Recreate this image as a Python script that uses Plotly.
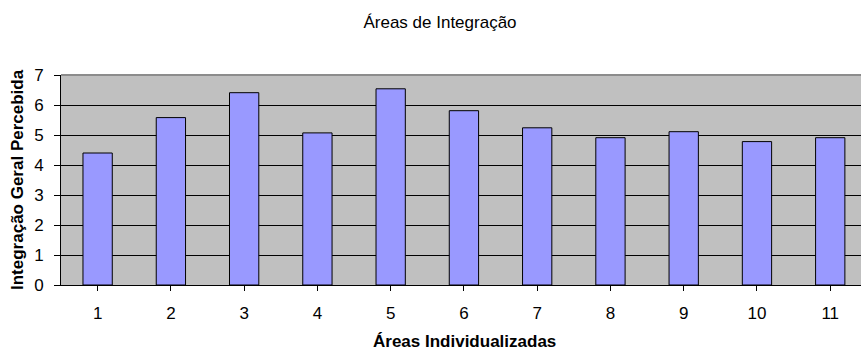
import plotly.graph_objects as go

categories = ["1", "2", "3", "4", "5", "6", "7", "8", "9", "10", "11"]
values = [4.40, 5.58, 6.41, 5.07, 6.54, 5.81, 5.24, 4.91, 5.11, 4.78, 4.91]
y_ticks = [0, 1, 2, 3, 4, 5, 6, 7]

title_text = "Áreas de Integração"
x_title = "Áreas Individualizadas"
y_title = "Integração Geral Percebida"

FONT = "Liberation Sans, Arial, sans-serif"

fig = go.Figure()
fig.add_trace(go.Bar(
    x=list(range(len(categories))),
    y=values,
    width=0.4,
    marker=dict(color="#9999FF", line=dict(color="#000000", width=1)),
    showlegend=False,
))

fig.update_layout(
    width=861, height=352,
    margin=dict(l=61, r=0, t=75, b=67),
    paper_bgcolor="white",
    plot_bgcolor="#C0C0C0",
    font=dict(family=FONT, size=17, color="#000000"),
    title=dict(text=title_text, x=440 / 861, xanchor="center", xref="container",
               y=1 - 22 / 352, yanchor="middle", yref="container",
               font=dict(family=FONT, size=17, color="#000000")),
    bargap=0.6,
)

fig.update_xaxes(
    range=[-0.5, 10.42],
    tickmode="array",
    tickvals=list(range(len(categories))),
    ticktext=categories,
    tickson="boundaries",
    ticks="outside", ticklen=5, tickcolor="#000000", tickwidth=1,
    showline=True, linecolor="#000000", linewidth=1,
    showgrid=False, zeroline=False,
    ticklabelstandoff=8,
    tickfont=dict(family=FONT, size=17, color="#000000"),
)

fig.update_yaxes(
    range=[0, 7],
    tickmode="array",
    tickvals=y_ticks,
    ticktext=[str(v) for v in y_ticks],
    ticks="outside", ticklen=6, tickcolor="#000000", tickwidth=1,
    showline=True, linecolor="#000000", linewidth=1,
    showgrid=True, gridcolor="#000000", gridwidth=1,
    zeroline=False,
    ticklabelstandoff=7,
    tickfont=dict(family=FONT, size=17, color="#000000"),
)

# grey plot-area top border
fig.add_shape(type="line", xref="paper", yref="paper", x0=0, x1=1, y0=1, y1=1,
              line=dict(color="#8C8C8C", width=2), layer="above")

fig.add_annotation(text="<b>" + x_title + "</b>", xref="paper", yref="paper",
                   x=(464 - 61) / 800, y=-(341 - 285) / 210,
                   xanchor="center", yanchor="middle", showarrow=False,
                   font=dict(family=FONT, size=17, color="#000000"))
fig.add_annotation(text="<b>" + y_title + "</b>", xref="paper", yref="paper",
                   x=-(61 - 17) / 800, y=0.5, textangle=-90,
                   xanchor="center", yanchor="middle", showarrow=False,
                   font=dict(family=FONT, size=17, color="#000000"))

fig.write_html("out.html")
